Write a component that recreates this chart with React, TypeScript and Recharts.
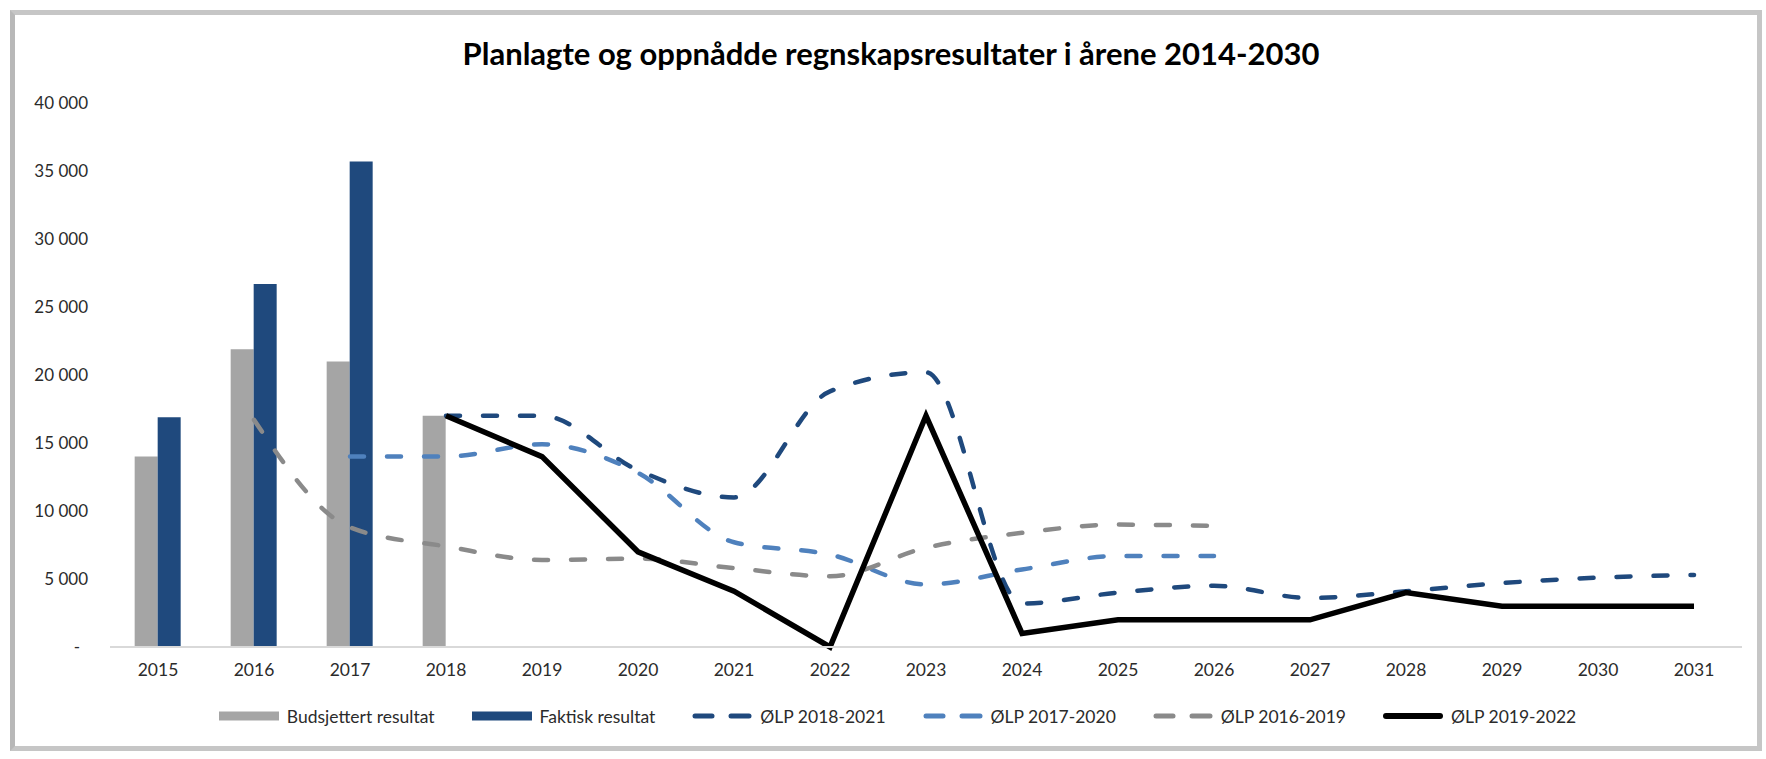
import { ComposedChart, Bar, Line, XAxis, YAxis, Legend } from "recharts";
import type { CSSProperties } from "react";

// år på x-aksen
const years = [
  "2015", "2016", "2017", "2018", "2019", "2020", "2021", "2022", "2023",
  "2024", "2025", "2026", "2027", "2028", "2029", "2030", "2031",
];

// søyler
const budsjettert = [14000, 21900, 21000, 17000, null, null, null, null, null, null, null, null, null, null, null, null, null];
const faktisk = [16900, 26700, 35700, null, null, null, null, null, null, null, null, null, null, null, null, null, null];

// økonomiplaner
const olp1821 = [null, null, null, 17000, 17000, 13000, 11000, 18800, 20200, 3200, 4000, 4500, 3600, 4100, 4700, 5100, 5300];
const olp1720 = [null, null, 14000, 14000, 14900, 12800, 7700, 6800, 4600, 5700, 6700, 6700, null, null, null, null, null];
const olp1619 = [null, 16700, 8800, 7400, 6400, 6500, 5800, 5200, 7300, 8400, 9000, 8900, null, null, null, null, null];
const olp1922 = [null, null, null, 17000, 14000, 7000, 4100, 0, 17000, 1000, 2000, 2000, 2000, 4000, 3000, 3000, 3000];

const yTicks = [0, 5000, 10000, 15000, 20000, 25000, 30000, 35000, 40000];

const data = years.map((year, i) => ({
  year,
  budsjettert: budsjettert[i],
  faktisk: faktisk[i],
  olp1821: olp1821[i],
  olp1720: olp1720[i],
  olp1619: olp1619[i],
  olp1922: olp1922[i],
}));

const FONT = "Lato, 'Open Sans', sans-serif";
const INK = "#2b2b2b";

const legendItems = [
  { name: "Budsjettert resultat", color: "#A5A5A5", kind: "bar" },
  { name: "Faktisk resultat", color: "#1F497D", kind: "bar" },
  { name: "ØLP 2018-2021", color: "#1F497D", kind: "dash" },
  { name: "ØLP 2017-2020", color: "#4F81BD", kind: "dash" },
  { name: "ØLP 2016-2019", color: "#8A8A8A", kind: "dash" },
  { name: "ØLP 2019-2022", color: "#000000", kind: "line" },
];

const fmt = (v: number) => String(v).replace(/\B(?=(\d{3})+(?!\d))/g, " ");

function YTick({ x, y, payload }: any) {
  const v = payload.value as number;
  return (
    <text x={v === 0 ? x - 8 : x} y={y} dy={6} textAnchor="end" fill={INK} fontSize={17} fontFamily={FONT}>
      {v === 0 ? "-" : fmt(v)}
    </text>
  );
}

function XTick({ x, y, payload }: any) {
  return (
    <text x={x} y={y} dy={29} textAnchor="middle" fill={INK} fontSize={17.5} fontFamily={FONT}>
      {payload.value}
    </text>
  );
}

function Swatch({ color, kind }: { color: string; kind: string }) {
  return (
    <svg width={60} height={12} style={{ display: "block" }}>
      {kind === "bar" && <rect x={0} y={1.5} width={60} height={9} fill={color} />}
      {kind === "dash" && (
        <g stroke={color} strokeWidth={5} strokeLinecap="round">
          <line x1={3} y1={6} x2={20} y2={6} />
          <line x1={39} y1={6} x2={57} y2={6} />
        </g>
      )}
      {kind === "line" && (
        <line x1={3} y1={6} x2={57} y2={6} stroke={color} strokeWidth={6} strokeLinecap="round" />
      )}
    </svg>
  );
}

function renderLegend() {
  return (
    <div style={legendRow}>
      {legendItems.map((item, i) => (
        <div key={item.name} style={{ display: "flex", alignItems: "center", marginRight: i < legendItems.length - 1 ? 37 : 0 }}>
          <Swatch color={item.color} kind={item.kind} />
          <span style={{ marginLeft: 8 }}>{item.name}</span>
        </div>
      ))}
    </div>
  );
}

export default function App() {
  return (
    <div style={page}>
      <div style={frame} />
      <div style={title}>Planlagte og oppnådde regnskapsresultater i årene 2014-2030</div>
      <div style={{ position: "absolute", left: 0, top: 0 }}>
        <ComposedChart
          width={1766}
          height={759}
          data={data}
          margin={{ top: 103, right: 24, bottom: 52, left: 0 }}
          barCategoryGap="25.7%"
          barGap={0}
        >
          <XAxis
            dataKey="year"
            height={60}
            tick={<XTick />}
            tickLine={false}
            tickSize={0}
            tickMargin={0}
            axisLine={{ stroke: "#d9d9d9", strokeWidth: 2 }}
            interval={0}
          />
          <YAxis
            width={110}
            domain={[0, 40000]}
            ticks={yTicks}
            tick={<YTick />}
            tickLine={false}
            tickSize={0}
            tickMargin={22}
            axisLine={false}
            interval={0}
          />
          <Legend
            layout="horizontal"
            verticalAlign="middle"
            align="center"
            wrapperStyle={{ top: 702, left: 0, width: 1795 }}
            content={renderLegend}
          />
          <Bar dataKey="budsjettert" name="Budsjettert resultat" fill="#A5A5A5" isAnimationActive={false} />
          <Bar dataKey="faktisk" name="Faktisk resultat" fill="#1F497D" isAnimationActive={false} />
          <Line
            dataKey="olp1821"
            name="ØLP 2018-2021"
            type="monotone"
            stroke="#1F497D"
            strokeWidth={4.5}
            strokeDasharray="14 23"
            strokeLinecap="round"
            dot={false}
            isAnimationActive={false}
          />
          <Line
            dataKey="olp1720"
            name="ØLP 2017-2020"
            type="monotone"
            stroke="#4F81BD"
            strokeWidth={4.5}
            strokeDasharray="14 23"
            strokeLinecap="round"
            dot={false}
            isAnimationActive={false}
          />
          <Line
            dataKey="olp1619"
            name="ØLP 2016-2019"
            type="monotone"
            stroke="#8A8A8A"
            strokeWidth={4.5}
            strokeDasharray="14 23"
            strokeLinecap="round"
            dot={false}
            isAnimationActive={false}
          />
          <Line
            dataKey="olp1922"
            name="ØLP 2019-2022"
            type="linear"
            stroke="#000000"
            strokeWidth={5.5}
            dot={false}
            isAnimationActive={false}
          />
        </ComposedChart>
      </div>
    </div>
  );
}

const page: CSSProperties = {
  position: "absolute",
  left: 0,
  top: 0,
  width: 1766,
  height: 759,
  background: "#ffffff",
  fontFamily: FONT,
  overflow: "hidden",
};

const frame: CSSProperties = {
  position: "absolute",
  left: 10,
  top: 10,
  width: 1752,
  height: 741,
  boxSizing: "border-box",
  border: "5px solid #c6c6c6",
  borderLeftColor: "#b8b8b8",
};

const title: CSSProperties = {
  position: "absolute",
  left: 0,
  top: 36,
  width: 1782,
  height: 34,
  lineHeight: "34px",
  textAlign: "center",
  fontFamily: FONT,
  fontWeight: 700,
  fontSize: 31,
  color: "#000000",
};

const legendRow: CSSProperties = {
  display: "flex",
  justifyContent: "center",
  alignItems: "center",
  height: 28,
  fontFamily: FONT,
  fontSize: 17.5,
  color: INK,
};
